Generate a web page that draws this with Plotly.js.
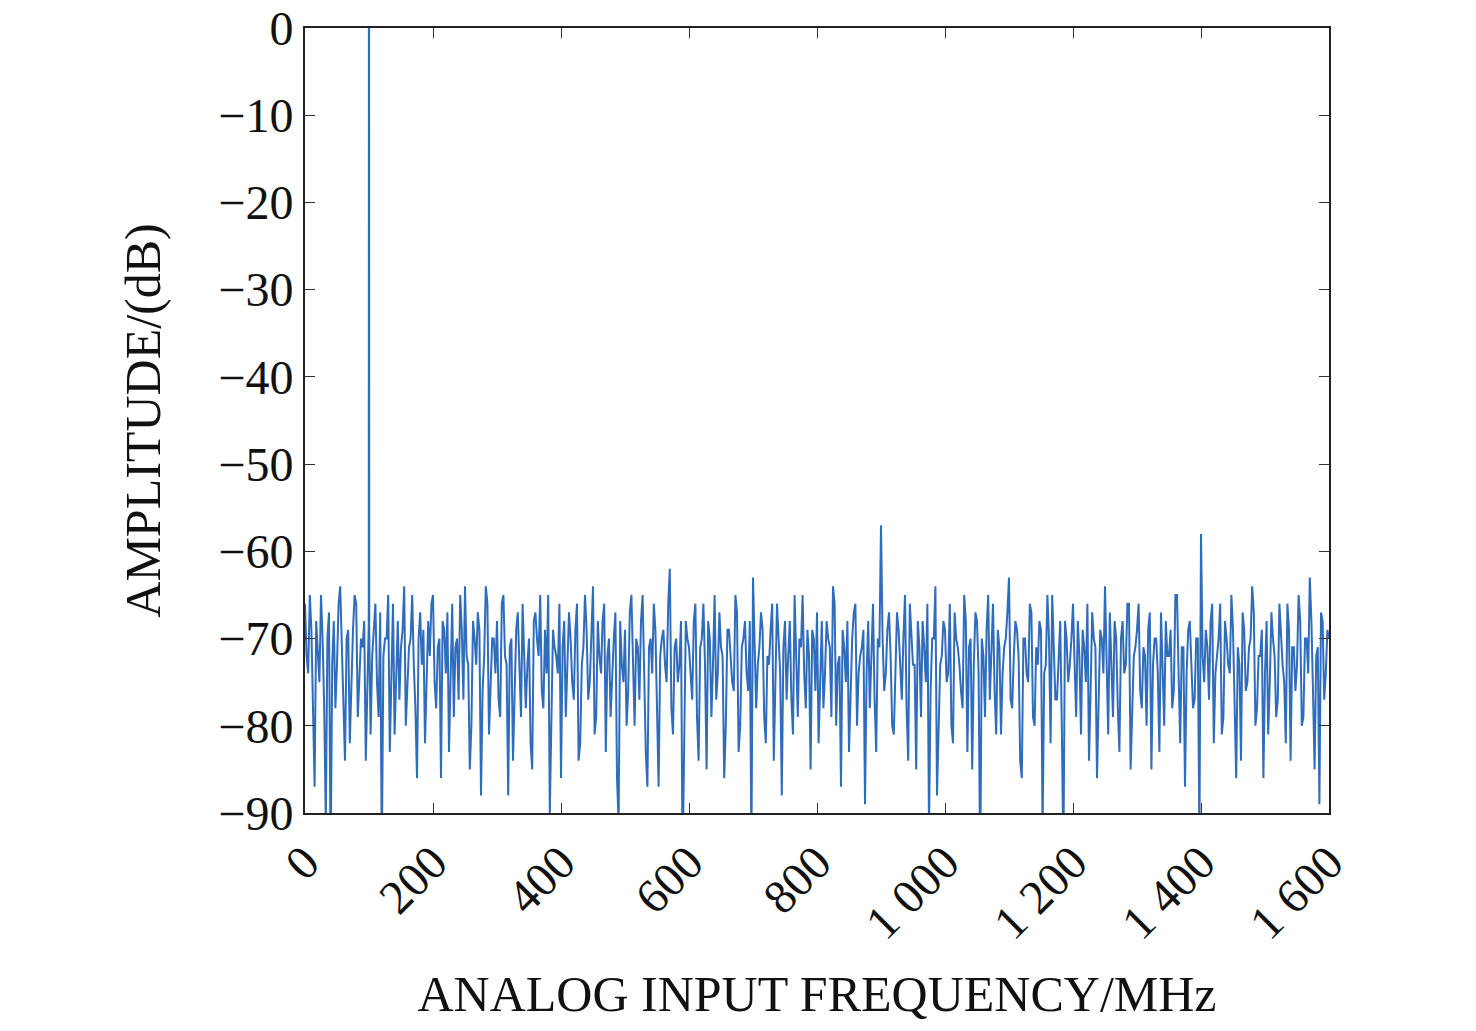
<!DOCTYPE html>
<html>
<head>
<meta charset="utf-8">
<script src="https://cdn.plot.ly/plotly-3.0.1.min.js"></script>
<style>body{margin:0;background:#fff}</style>
</head>
<body>
<div id="chart" style="width:1476px;height:1031px"></div>
<script>
// noise floor, one reading every 5 MHz from 0 to 1600 MHz
var noiseAmp = [
 -66,-74,-69,-87,-71,-65,-78,-70,-96,-68,-73,-64,-77,-70,-82,-69,-66,-75,-71,-84,
 -67,-72,-66,-79,-95,-70,-65,-74,-81,-68,-71,-64,-76,-70,-73,-86,-67,-69,-75,-72,
 -65,-78,-70,-68,-74,-83,-66,-71,-77,-69,-64,-73,-80,-70,-67,-88,-72,-66,-75,-70,
 -68,-79,-65,-73,-71,-84,-69,-74,-66,-78,-70,-85,-67,-72,-76,-69,-65,-81,-71,-74,
 -86,-68,-73,-70,-77,-66,-82,-71,-69,-75,-64,-79,-72,-68,-83,-70,-74,-67,-91,-73,
 -69,-76,-65,-80,-71,-68,-74,-87,-70,-66,-78,-72,-69,-75,-62,-81,-70,-73,-96,-68,
 -71,-77,-66,-84,-70,-73,-68,-79,-65,-74,-71,-86,-69,-72,-76,-67,-80,-70,-74,-68,
 -63,-78,-71,-69,-82,-73,-66,-75,-70,-88,-68,-72,-77,-65,-79,-71,-74,-69,-85,-70,
 -67,-73,-78,-68,-71,-64,-80,-72,-69,-75,-83,-70,-66,-74,-71,-89,-68,-73,-77,-70,
 -57,-76,-69,-72,-81,-67,-74,-70,-78,-66,-73,-85,-71,-68,-75,-92,-70,-64,-79,-72,
 -69,-74,-80,-67,-71,-76,-65,-83,-70,-73,-68,-97,-72,-69,-77,-66,-81,-71,-74,-70,
 -63,-78,-68,-72,-86,-70,-75,-67,-80,-73,-69,-74,-65,-82,-71,-77,-68,-95,-70,-73,
 -66,-79,-72,-69,-75,-84,-67,-71,-76,-70,-64,-81,-73,-68,-78,-70,-74,-66,-85,-72,
 -69,-76,-71,-80,-67,-73,-70,-83,-75,-68,-72,-78,-65,-74,-71,-87,-69,-73,-77,-70,
 -58,-75,-71,-68,-82,-72,-66,-79,-70,-74,-69,-86,-73,-67,-76,-71,-64,-80,-72,-69,
 -74,-81,-67,-72,-77,-70,-75,-66,-84,-71,-73,-68,-79,-70,-63,-76,-72,-89,-68,-74,
 -70
];
// readings between the above, at 2.5 MHz offset
var midAmp = [
 -72,-65,-80,-68,-75,-70,-91,-67,-73,-78,-66,-71,-84,-69,-74,-65,-79,-70,-68,-76,
 -81,-69,-75,-67,-72,-70,-83,-66,-74,-77,-69,-80,-71,-65,-78,-70,-73,-82,-68,-66,
 -75,-71,-86,-69,-67,-74,-79,-70,-65,-77,-72,-85,-68,-73,-69,-76,-64,-81,-70,-74,
 -77,-66,-72,-88,-70,-75,-67,-79,-71,-73,-82,-68,-70,-65,-78,-74,-90,-69,-72,-66,
 -71,-79,-67,-75,-69,-84,-73,-65,-77,-70,-81,-68,-74,-66,-72,-79,-70,-86,-68,-75,
 -80,-67,-72,-70,-77,-65,-83,-71,-74,-69,-87,-70,-73,-66,-78,-71,-75,-68,-82,-70,
 -74,-68,-79,-71,-66,-85,-70,-73,-77,-67,-72,-80,-69,-75,-65,-83,-71,-68,-76,-94,
 -70,-73,-67,-79,-72,-69,-84,-66,-74,-71,-77,-68,-81,-73,-70,-65,-78,-72,-69,-76,
 -82,-68,-74,-70,-79,-66,-73,-87,-71,-68,-75,-67,-80,-72,-69,-74,-78,-66,-83,-71,
 -70,-74,-67,-80,-72,-69,-77,-65,-84,-70,-73,-68,-79,-71,-66,-76,-70,-88,-73,-68,
 -75,-66,-82,-70,-73,-78,-68,-71,-85,-67,-74,-70,-79,-65,-72,-76,-69,-81,-71,-67,
 -77,-72,-69,-84,-70,-74,-66,-79,-71,-68,-92,-73,-70,-65,-77,-72,-80,-68,-75,-70,
 -73,-68,-81,-71,-66,-76,-70,-86,-69,-74,-72,-67,-79,-70,-83,-68,-73,-66,-77,-71,
 -66,-78,-72,-69,-85,-70,-74,-67,-80,-72,-69,-76,-65,-82,-71,-74,-68,-78,-70,-93,
 -72,-69,-77,-66,-74,-70,-81,-68,-73,-65,-79,-71,-84,-69,-75,-70,-67,-78,-72,-86,
 -68,-75,-70,-79,-66,-73,-82,-69,-71,-76,-65,-80,-70,-74,-68,-85,-71,-67,-77,-69
];
var stepMHz = 5;
var freq = [], amp = [];
noiseAmp.forEach(function (v, i) {
  freq.push(i * stepMHz); amp.push(v);
  if (i < midAmp.length) { freq.push(i * stepMHz + stepMHz / 2); amp.push(midAmp[i]); }
});

// the input tone
var toneFreq = [99.8, 100, 100.2];
var toneAmp = [-68, 0, -68];

var xTicks = [0, 200, 400, 600, 800, 1000, 1200, 1400, 1600];
var xTickText = ['0', '200', '400', '600', '800', '1 000', '1 200', '1 400', '1 600'];
var yTicks = [0, -10, -20, -30, -40, -50, -60, -70, -80, -90];
var yTickText = ['0', '\u221210', '\u221220', '\u221230', '\u221240', '\u221250', '\u221260', '\u221270', '\u221280', '\u221290'];

var lineColor = '#2f6cbc';
var data = [
  {x: freq, y: amp, type: 'scatter', mode: 'lines', line: {color: lineColor, width: 2}, hoverinfo: 'skip'},
  {x: toneFreq, y: toneAmp, type: 'scatter', mode: 'lines', line: {color: lineColor, width: 2.2}, hoverinfo: 'skip'}
];

var fam = 'Liberation Serif, Times New Roman, serif';
var font = {family: fam, size: 48, color: '#111'};
var layout = {
  width: 1476, height: 1031,
  margin: {l: 305, r: 147, t: 28, b: 218},
  showlegend: false,
  paper_bgcolor: '#fff', plot_bgcolor: '#fff',
  font: font,
  xaxis: {
    range: [0, 1600], tickvals: xTicks, ticktext: xTickText, tickangle: -45,
    ticks: 'inside', ticklen: 10, tickcolor: '#333', showline: true, linecolor: '#222', linewidth: 2,
    mirror: 'ticks', showgrid: false, zeroline: false,
    title: {text: 'ANALOG INPUT FREQUENCY/MHz', font: {family: fam, size: 50, color: '#111'}, standoff: 28}
  },
  yaxis: {
    range: [-90, 0], tickvals: yTicks, ticktext: yTickText,
    ticks: 'inside', ticklen: 10, tickcolor: '#333', showline: true, linecolor: '#222', linewidth: 2,
    mirror: 'ticks', showgrid: false, zeroline: false,
    title: {text: 'AMPLITUDE/(dB)', font: {family: fam, size: 50, color: '#111'}, standoff: 42}
  }
};

Plotly.newPlot('chart', data, layout, {staticPlot: true});
</script>
</body>
</html>
